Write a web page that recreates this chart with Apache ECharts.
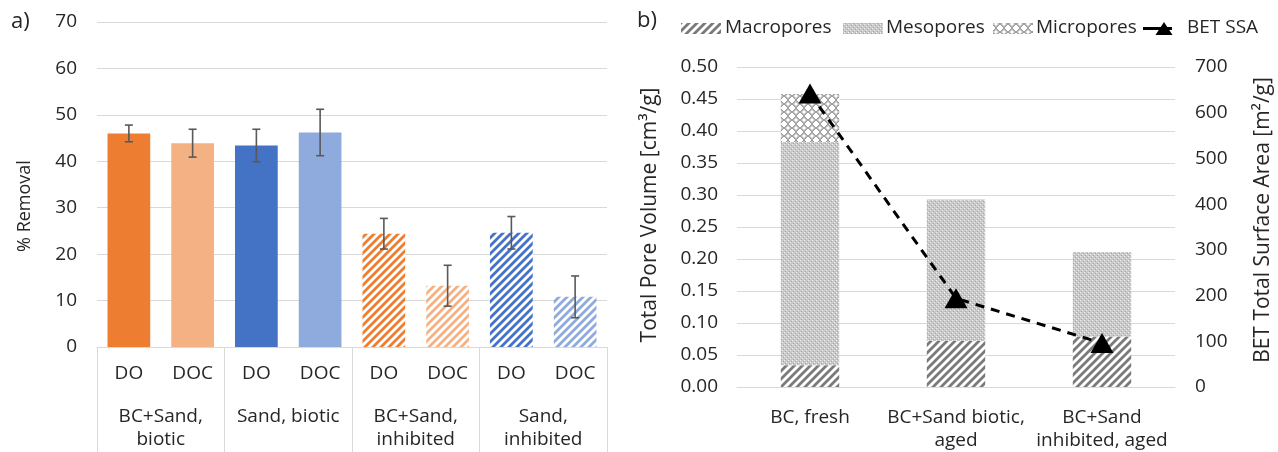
<!DOCTYPE html>
<html><head><meta charset="utf-8">
<script src="https://cdn.jsdelivr.net/npm/echarts@6/dist/echarts.min.js"></script>
<style>html,body{margin:0;padding:0;background:#fff}#c{width:1278px;height:452px}</style>
</head><body><div id="c"></div>
<script>
// ---- Panel a data ----
const categoriesA = ['DO','DOC','DO','DOC','DO','DOC','DO','DOC'];
const groupsA = ['BC+Sand,\nbiotic','Sand, biotic','BC+Sand,\ninhibited','Sand,\ninhibited'];
const removal = [46.0, 43.9, 43.4, 46.2, 24.4, 13.2, 24.6, 10.8];
const removalErr = [1.8, 3.0, 3.5, 5.0, 3.3, 4.4, 3.5, 4.5];
const ticksA = [0,10,20,30,40,50,60,70];
// ---- Panel b data ----
const samplesB = ['BC, fresh','BC+Sand biotic,\naged','BC+Sand\ninhibited, aged'];
const seriesNamesB = ['Macropores','Mesopores','Micropores','BET SSA'];
const macro = [0.034, 0.072, 0.079];
const meso = [0.349, 0.221, 0.132];
const micro = [0.075, 0.0, 0.0];
const betSSA = [642, 194, 96];

const FONT = 'Open Sans';
const TXT = '#262626';

function stripes(color, bg){
  const c = document.createElement('canvas'); c.width = 8; c.height = 8;
  const g = c.getContext('2d');
  g.fillStyle = bg; g.fillRect(0,0,8,8);
  g.strokeStyle = color; g.lineWidth = 2.8; g.lineCap='square';
  for (let k=-1;k<=1;k++){ g.beginPath(); g.moveTo(k*8,8); g.lineTo(k*8+8,0); g.stroke(); }
  return {image:c, repeat:'repeat'};
}
function mesoPat(){
  const c = document.createElement('canvas'); c.width = 4; c.height = 4;
  const g = c.getContext('2d');
  g.fillStyle = '#c8c8c8'; g.fillRect(0,0,4,4);
  g.fillStyle = '#f4f4f4'; g.fillRect(0,0,1,1); g.fillRect(2,2,1,1);
  g.fillStyle = '#a8a8a8'; g.fillRect(1,3,1,1); g.fillRect(3,1,1,1);
  return {image:c, repeat:'repeat'};
}
function microPat(){
  const c = document.createElement('canvas'); c.width = 8; c.height = 8;
  const g = c.getContext('2d');
  g.fillStyle = '#ffffff'; g.fillRect(0,0,8,8);
  g.strokeStyle = '#9a9a9a'; g.lineWidth = 1;
  g.beginPath(); g.moveTo(0,0); g.lineTo(8,8); g.stroke();
  g.beginPath(); g.moveTo(8,0); g.lineTo(0,8); g.stroke();
  g.beginPath(); g.arc(4,0,2.3,0,Math.PI*2); g.stroke();
  g.beginPath(); g.arc(4,8,2.3,0,Math.PI*2); g.stroke();
  return {image:c, repeat:'repeat'};
}

const colA = [
  '#ED7D31', '#F4B183', '#4472C4', '#8FAADC',
  stripes('#ED7D31','#ffffff'), stripes('#F4B183','#ffffff'),
  stripes('#4472C4','#ffffff'), stripes('#8FAADC','#ffffff')
];
const patMacro = stripes('#7a7a7a','#ffffff');
const patMeso = mesoPat();
const patMicro = microPat();

const chart = echarts.init(document.getElementById('c'), null, {renderer:'canvas'});
const lbl = {fontFamily:FONT, fontSize:19, color:TXT};
function vtitle(text, x, y, size){
  return {type:'text', x:x, y:y, rotation:Math.PI/2,
    style:{text:text, fontFamily:FONT, fontSize:size, fill:TXT, align:'center', verticalAlign:'middle'}};
}
function ltext(text, x){
  return {type:'text', x:x, y:28, style:{text:text, fontFamily:FONT, fontSize:19, fill:TXT, align:'left', verticalAlign:'middle'}};
}
function lswatch(fill, x){
  return {type:'rect', shape:{x:x, y:23, width:40, height:11}, style:{fill:fill}};
}

chart.setOption({
  animation:false,
  textStyle:{fontFamily:FONT},
  grid:[
    {left:97, right:671, top:22, bottom:105},
    {left:737, right:103, top:67, bottom:65}
  ],
  graphic:[
    {type:'text', left:11, top:11, style:{text:'a)', fontFamily:FONT, fontSize:22, fill:TXT}},
    {type:'text', left:637, top:10, style:{text:'b)', fontFamily:FONT, fontSize:22, fill:TXT}},
    vtitle('% Removal', 25, 206, 18),
    vtitle('Total Pore Volume [cm³/g]', 650, 215, 21),
    vtitle('BET Total Surface Area [m²/g]', 1263, 220, 21),
    lswatch(patMacro, 681), ltext(seriesNamesB[0], 725),
    lswatch(patMeso, 843), ltext(seriesNamesB[1], 886),
    lswatch(patMicro, 993), ltext(seriesNamesB[2], 1036),
    {type:'line', shape:{x1:1143, y1:28.5, x2:1172, y2:28.5}, style:{stroke:'#000', lineWidth:3}},
    {type:'polygon', shape:{points:[[1164,22],[1172.5,35],[1155.5,35]]}, style:{fill:'#000'}},
    ltext(seriesNamesB[3], 1187)
  ],
  xAxis:[
    {gridIndex:0, type:'category', data:categoriesA, position:'bottom',
     axisLine:{show:true, lineStyle:{color:'#d9d9d9'}}, axisTick:{show:false},
     axisLabel:Object.assign({margin:17, interval:0}, lbl)},
    {gridIndex:0, type:'category', data:groupsA, position:'bottom',
     axisLine:{show:false}, axisTick:{show:true, length:105, interval:0, lineStyle:{color:'#d9d9d9'}},
     axisLabel:Object.assign({margin:58, interval:0, lineHeight:23}, lbl)},
    {gridIndex:1, type:'category', data:samplesB,
     axisLine:{show:true, lineStyle:{color:'#d9d9d9'}}, axisTick:{show:false},
     axisLabel:Object.assign({margin:19, interval:0, lineHeight:23}, lbl)}
  ],
  yAxis:[
    {gridIndex:0, type:'value', min:0, max:70, interval:10,
     axisLine:{show:false}, axisTick:{show:false},
     splitLine:{lineStyle:{color:'#d9d9d9'}},
     axisLabel:Object.assign({margin:20}, lbl)},
    {gridIndex:1, type:'value', min:0, max:0.5, interval:0.05,
     axisLine:{show:false}, axisTick:{show:false},
     splitLine:{lineStyle:{color:'#d9d9d9'}},
     axisLabel:Object.assign({margin:19, formatter:v=>v.toFixed(2)}, lbl)},
    {gridIndex:1, type:'value', min:0, max:700, interval:100, position:'right',
     axisLine:{show:false}, axisTick:{show:false}, splitLine:{show:false},
     axisLabel:Object.assign({margin:20}, lbl)}
  ],
  series:[
    {type:'bar', xAxisIndex:0, yAxisIndex:0, barWidth:'67%',
     data:removal.map((v,i)=>({value:v, itemStyle:{color:colA[i]}}))},
    {type:'custom', xAxisIndex:0, yAxisIndex:0, z:5,
     data:removal.map((v,i)=>[i, v, removalErr[i]]),
     encode:{x:0, y:1},
     renderItem:function(params, api){
       const i = api.value(0), m = api.value(1), e = api.value(2);
       const hi = api.coord([i, m+e]), lo = api.coord([i, m-e]);
       const w = 4;
       const st = {stroke:'#595959', lineWidth:1.6};
       return {type:'group', children:[
         {type:'line', shape:{x1:hi[0], y1:hi[1], x2:lo[0], y2:lo[1]}, style:st},
         {type:'line', shape:{x1:hi[0]-w, y1:hi[1], x2:hi[0]+w, y2:hi[1]}, style:st},
         {type:'line', shape:{x1:lo[0]-w, y1:lo[1], x2:lo[0]+w, y2:lo[1]}, style:st}
       ]};
     }},
    {name:seriesNamesB[0], type:'bar', xAxisIndex:2, yAxisIndex:1, stack:'pv', barWidth:'40%',
     itemStyle:{color:patMacro}, data:macro},
    {name:seriesNamesB[1], type:'bar', xAxisIndex:2, yAxisIndex:1, stack:'pv', barWidth:'40%',
     itemStyle:{color:patMeso}, data:meso},
    {name:seriesNamesB[2], type:'bar', xAxisIndex:2, yAxisIndex:1, stack:'pv', barWidth:'40%',
     itemStyle:{color:patMicro}, data:micro},
    {name:seriesNamesB[3], type:'line', xAxisIndex:2, yAxisIndex:2, z:10,
     symbol:'triangle', symbolSize:[23,20],
     lineStyle:{color:'#000', width:3, type:[9,7]},
     itemStyle:{color:'#000'}, data:betSSA}
  ]
});
</script></body></html>
